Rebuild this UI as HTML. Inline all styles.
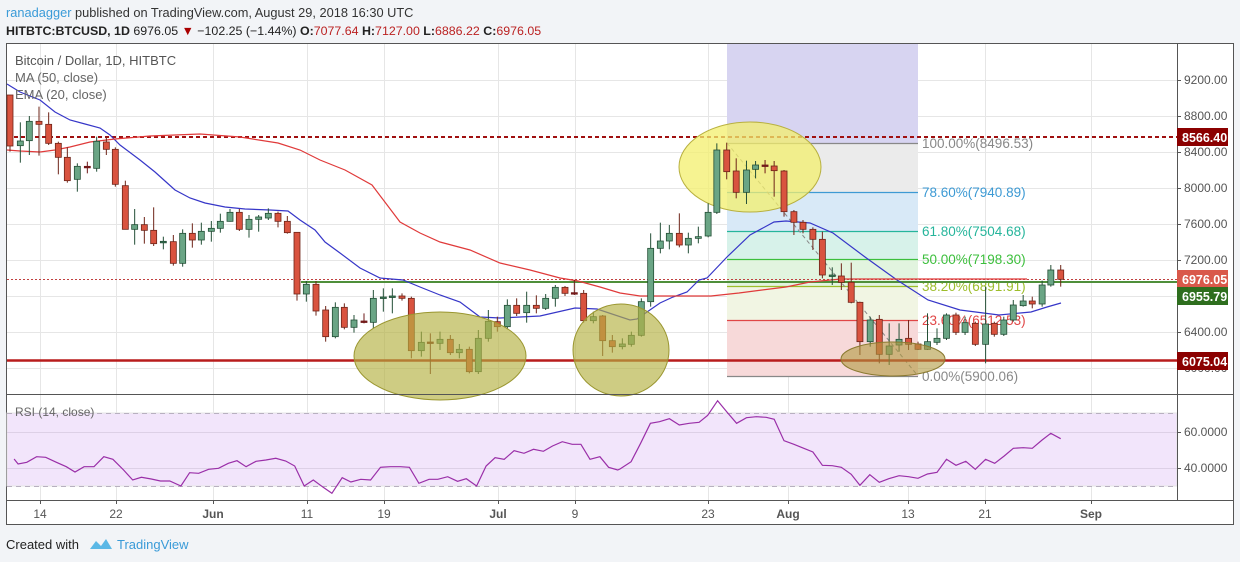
<!DOCTYPE html>
<html><head><meta charset="utf-8">
<style>
html,body{margin:0;padding:0;background:#f2f4f7;}
body{width:1240px;height:562px;overflow:hidden;font-family:"Liberation Sans",sans-serif;}
svg{display:block}
</style></head>
<body>
<svg id="s" width="1240" height="562" xmlns="http://www.w3.org/2000/svg" font-family="Liberation Sans, sans-serif">
<text x="6" y="17" font-size="12.8" fill="#333"><tspan fill="#3a9bd8">ranadagger</tspan> published on TradingView.com, August 29, 2018 16:30 UTC</text>
<text x="6" y="35" font-size="12.4" fill="#222"><tspan font-weight="bold">HITBTC:BTCUSD, 1D</tspan> 6976.05 <tspan fill="#a00">▼</tspan> −102.25 (−1.44%) <tspan font-weight="bold">O:</tspan><tspan fill="#b22">7077.64</tspan> <tspan font-weight="bold">H:</tspan><tspan fill="#b22">7127.00</tspan> <tspan font-weight="bold">L:</tspan><tspan fill="#b22">6886.22</tspan> <tspan font-weight="bold">C:</tspan><tspan fill="#b22">6976.05</tspan></text>
<rect x="6.5" y="43.5" width="1227" height="481" fill="#fff" stroke="#555"/>
<g id="grid" stroke="#e6e6e6" stroke-width="1"></g>
<g id="fib"></g>
<g id="lines"></g>
<g id="candles"></g>
<g id="over"></g>
<line x1="1177.5" y1="43" x2="1177.5" y2="500" stroke="#555"/>
<line x1="6" y1="394.5" x2="1234" y2="394.5" stroke="#555"/>
<line x1="6" y1="500.5" x2="1234" y2="500.5" stroke="#555"/>
<g id="labels" font-size="12" fill="#555"></g>
<text x="15" y="65" font-size="13" fill="#555">Bitcoin / Dollar, 1D, HITBTC</text>
<text x="15" y="82" font-size="13" fill="#666">MA (50, close)</text>
<text x="15" y="99" font-size="13" fill="#666">EMA (20, close)</text>
<text x="15" y="416" font-size="12" fill="#666">RSI (14, close)</text>
<text x="6" y="549" font-size="13" fill="#222">Created with</text>
<path d="M90 549 l6 -8 l5 5 l5 -7 l6 10 z" fill="#5bb8e6"/>
<text x="117" y="549" font-size="13" fill="#3a9bd8">TradingView</text>
</svg>
<script>
const NS="http://www.w3.org/2000/svg";
function el(p,t,a,txt){const e=document.createElementNS(NS,t);for(const k in a)e.setAttribute(k,a[k]);if(txt!==undefined)e.textContent=txt;document.getElementById(p).appendChild(e);return e;}
[40,116,213,307,384,498,575,708,788,908,985,1091].forEach(x=>{el('grid','line',{x1:x+.5,y1:44,x2:x+.5,y2:500});});
[80,116,152,188,224,260,296,332,368,432,468].forEach(y=>{el('grid','line',{x1:7,y1:y+.5,x2:1177,y2:y+.5});});
const fx1=727,fx2=918;
el('fib','rect',{x:fx1,y:44,width:fx2-fx1,height:99,fill:"#d7d4f1"});
const bands=[[143,192,"#ebebeb"],[192,231,"#d8e9f7"],[231,259,"#d7f2ea"],[259,286,"#e2f4df"],[286,320,"#f1f5e3"],[320,376,"#f7d9d9"]];
bands.forEach(b=>el('fib','rect',{x:fx1,y:b[0],width:fx2-fx1,height:b[1]-b[0],fill:b[2]}));
const lv=[[143,"#888","100.00%(8496.53)"],[192,"#3d9ad4","78.60%(7940.89)"],[231,"#26b59b","61.80%(7504.68)"],[259,"#3cbf3c","50.00%(7198.30)"],[286,"#9dbd2a","38.20%(6891.91)"],[320,"#e04646","23.60%(6512.53)"],[376,"#888","0.00%(5900.06)"]];
lv.forEach(l=>{el('fib','line',{x1:fx1,y1:l[0]+.5,x2:fx2,y2:l[0]+.5,stroke:l[1],"stroke-width":1.3});el('fib','text',{x:922,y:l[0]+5,fill:l[1],"font-size":"13.5"},l[2]);});
el('fib','line',{x1:fx1,y1:143,x2:fx2,y2:376,stroke:"#888","stroke-dasharray":"4 3"});
el('lines','line',{x1:7,y1:137,x2:1177,y2:137,stroke:"#a01010","stroke-width":2,"stroke-dasharray":"4 3"});
el('lines','line',{x1:7,y1:279.5,x2:1177,y2:279.5,stroke:"#c04040","stroke-dasharray":"2 2"});
el('lines','line',{x1:301,y1:282,x2:1177,y2:282,stroke:"#4f8f3a","stroke-width":2});
el('lines','line',{x1:7,y1:360.5,x2:1177,y2:360.5,stroke:"#b81c1c","stroke-width":2.5});
el('lines','ellipse',{cx:750,cy:167,rx:71,ry:45,fill:"#f3ef6c","fill-opacity":.75,stroke:"#b8b040"});
el('over','ellipse',{cx:440,cy:356,rx:86,ry:44,fill:"#b4b040","fill-opacity":.65,stroke:"#9a9630"});
el('over','ellipse',{cx:621,cy:350,rx:48,ry:46,fill:"#b4b040","fill-opacity":.65,stroke:"#9a9630"});
el('over','ellipse',{cx:893,cy:359,rx:52,ry:17,fill:"#b09a40","fill-opacity":.6,stroke:"#8a7a30"});
function pl(pts,c){el('lines','polyline',{points:pts.map(p=>p.join(',')).join(' '),fill:"none",stroke:c,"stroke-width":1.2});}
pl([[7,84],[20,92],[40,100],[55,112],[70,120],[85,124],[100,128],[110,135],[120,145],[140,160],[155,172],[165,181],[175,190],[190,198],[205,203],[225,207],[245,209],[270,210],[288,211],[300,220],[315,230],[325,242],[340,253],[360,268],[380,278],[403,280],[420,287],[440,295],[460,302],[480,317],[500,318],[540,316],[575,308],[597,309],[630,320],[637,319],[647,312],[660,303],[673,297],[687,292],[699,280],[707,278],[727,257],[750,235],[774,222],[786,221],[810,223],[833,233],[865,257],[897,280],[928,300],[960,310],[999,315],[1031,312],[1047,307],[1061,303]],"#3636c8");
pl([[7,150],[20,151],[40,152],[55,150],[70,147],[90,142],[115,139],[150,136],[200,134],[240,137],[278,143],[300,150],[320,160],[345,170],[372,185],[400,222],[420,233],[440,242],[470,250],[500,263],[530,270],[560,278],[578,281],[600,287],[620,293],[640,296],[660,296],[711,296],[739,293],[762,290],[786,287],[810,282],[841,279],[897,279],[1027,279]],"#e03a3a");
const A=[[30,15,168,15,185,0],[61,153,167,97,218,1],[88,94,152,78,195,1],[117,94,103,50,197,0],[146,103,160,67,165,0],[175,160,202,155,253,0],[202,202,272,172,278,0],[232,229,268,220,305,1],[262,229,232,215,250,2],[290,154,235,140,245,1],[319,156,178,140,195,0],[346,178,283,172,290,0],[376,287,418,272,418,0],[404,404,418,357,464,1],[433,404,421,381,461,0],[461,421,461,352,468,0],[490,454,457,440,478,3],[520,455,520,435,527,0],[548,430,520,418,530,1],[577,430,450,400,473,0],[604,424,450,398,464,1],[634,415,424,393,455,1],[661,394,415,371,428,1],[690,367,394,357,395,1],[718,367,418,357,423,0],[747,388,418,375,443,1],[776,381,388,375,425,1],[805,370,384,355,390,1],[834,370,394,365,412,0],[862,394,428,378,431,0],[891,427,612,427,632,0],[919,583,612,573,635,1],[948,583,663,573,677,0],[977,660,740,648,755,0],[1006,652,740,637,745,1],[1033,652,712,640,718,0],[1062,690,712,675,728,1]];
const B=[[72,393,397,370,400,2],[100,325,397,300,415,1],[130,321,325,295,365,3],[157,318,322,295,370,3],[186,318,325,310,332,0],[214,325,482,320,505,0],[244,457,482,425,500,1],[271,456,460,430,552,2],[300,448,460,425,480,1],[331,448,488,435,495,0],[358,478,488,462,505,1],[388,478,545,470,550,0],[415,445,545,420,552,1],[445,394,445,360,455,1],[472,395,410,380,425,0],[502,346,410,328,418,1],[530,346,370,325,378,0],[560,346,368,305,398,1],[589,346,355,316,370,0],[617,325,355,312,360,1],[646,292,325,285,350,1],[675,292,310,288,318,0],[703,308,312,270,315,2],[731,310,392,300,398,0],[760,380,392,365,400,1],[788,378,452,375,498,0],[817,452,470,435,488,0],[847,462,470,445,478,1],[874,436,463,425,470,1],[904,335,436,325,440,1],[932,175,335,130,350,1],[961,153,175,98,190,1],[988,130,153,105,178,1],[1018,130,165,70,172,0],[1045,145,165,128,190,1],[1075,140,145,110,160,1]];
const C=[[223,547,618,520,622,1],[245,360,547,340,552,1],[270,360,425,338,448,0],[294,423,487,385,505,0],[320,420,487,392,522,1],[343,405,418,393,445,1],[367,405,409,390,430,2],[390,408,422,393,500,0],[415,423,545,420,560,0],[440,545,577,540,615,0],[463,577,598,570,610,0],[488,598,628,592,660,0],[512,628,735,605,745,0],[537,735,739,712,765,3],[560,738,757,700,780,0],[585,757,817,698,820,0],[607,817,935,815,975,0],[633,870,935,860,950,1],[656,868,973,855,1000,0],[681,948,973,880,1005,1],[706,928,945,880,965,1],[730,925,943,870,960,0],[754,942,958,935,960,0],[778,935,958,850,960,1],[802,925,937,895,945,1],[826,855,925,850,930,1],[850,855,907,848,915,0],[873,878,907,860,915,1],[899,880,943,875,948,0],[925,882,943,770,1000,1],[947,880,913,875,920,0],[971,870,913,860,918,1],[995,825,870,810,875,1],[1020,813,827,795,830,1],[1043,813,822,800,835,0],[1068,765,822,752,830,1],[1090,720,765,705,770,1],[1115,720,748,705,770,0]];
function candle(x,bt,bb,wt,wb,c){
  const cols=[["#d9533f","#6e2418"],["#6aa585","#234f36"],["#7a1a1a","#6e1818"],["#3f7d5a","#234f36"]][c];
  el('candles','line',{x1:x,y1:wt,x2:x,y2:wb,stroke:cols[1],"stroke-width":1});
  const h=Math.max(bb-bt,1.5);
  el('candles','rect',{x:x-3,y:bt,width:6,height:h,fill:cols[0],stroke:cols[1],"stroke-width":.8});
}
A.forEach(d=>candle(d[0]/3,90+d[1]/3,90+d[2]/3,90+d[3]/3,90+d[4]/3,d[5]));
B.forEach(d=>candle(340+d[0]/3,190+d[1]/3,190+d[2]/3,190+d[3]/3,190+d[4]/3,d[5]));
C.forEach(d=>candle(620+d[0]/2.53,30+d[1]/3,30+d[2]/3,30+d[3]/3,30+d[4]/3,d[5]));
el('grid','rect',{x:7,y:413,width:1170,height:73,fill:"#f2e5fb"});
[432,468].forEach(y=>el('grid','line',{x1:7,y1:y+.5,x2:1177,y2:y+.5,stroke:"#ddd0e6"}));
[413,486].forEach(y=>el('grid','line',{x1:7,y1:y+.5,x2:1177,y2:y+.5,stroke:"#b8b0c0","stroke-dasharray":"5 4"}));
const R1=[[18,237],[28,252],[50,247],[75,230],[98,232],[125,247],[150,260],[172,276],[195,260],[220,260],[245,230],[268,238],[295,270],[318,300],[340,292],[365,297],[388,303],[412,303],[440,318],[462,278],[485,280],[510,268],[535,265],[560,250],[582,242],[605,260],[630,244],[655,240],[680,235],[705,243],[728,258],[752,318],[775,300],[800,322],[822,340],[848,293],[870,306],[895,298],[920,300],[945,262],[970,260],[995,260],[1018,262],[1042,310],[1068,298],[1090,298],[1115,290],[1140,304],[1162,296],[1188,318],[1212,258],[1235,233],[1258,238],[1283,212],[1308,220],[1332,208],[1357,214],[1380,198],[1405,185],[1430,193],[1452,193],[1475,238],[1500,230],[1522,262],[1545,270]];
const R2=[[0,267],[28,245],[52,190],[77,130],[100,125],[125,116],[150,135],[175,130],[200,127],[222,106],[247,62],[270,95],[295,130],[320,113],[345,110],[370,112],[390,118],[415,182],[440,193],[465,205],[488,216],[512,256],[537,257],[560,262],[585,283],[607,316],[632,284],[656,307],[680,296],[706,287],[730,290],[754,295],[778,282],[802,277],[826,238],[850,256],[875,244],[899,268],[925,238],[948,250],[972,228],[995,205],[1020,203],[1043,205],[1068,180],[1090,160],[1115,176]];
const rp=R1.map(p=>[7+p[0]/2.53,380+p[1]/3]).concat(R2.map(p=>[620+p[0]/2.53,380+p[1]/3]));
el('lines','polyline',{points:rp.map(p=>p.map(v=>v.toFixed(1)).join(',')).join(' '),fill:"none",stroke:"#9a2fa8","stroke-width":1.2});
[[80,"9200.00"],[116,"8800.00"],[152,"8400.00"],[188,"8000.00"],[224,"7600.00"],[260,"7200.00"],[332,"6400.00"],[368,"6000.00"],[432,"60.0000"],[468,"40.0000"]].forEach(l=>{
  el('labels','line',{x1:1177,y1:l[0]+.5,x2:1181,y2:l[0]+.5,stroke:"#555"});
  el('labels','text',{x:1184,y:l[0]+4},l[1]);});
[[137,"#8b0000","8566.40"],[279,"#d9584a","6976.05"],[296,"#2e6e1e","6955.79"],[361,"#8b0000","6075.04"]].forEach(b=>{
  el('labels','rect',{x:1177,y:b[0]-9,width:51,height:18,fill:b[1]});
  el('labels','text',{x:1182,y:b[0]+5,fill:"#fff","font-weight":"bold","font-size":"12.5"},b[2]);});
[[40,"14"],[116,"22"],[213,"Jun",1],[307,"11"],[384,"19"],[498,"Jul",1],[575,"9"],[708,"23"],[788,"Aug",1],[908,"13"],[985,"21"],[1091,"Sep",1]].forEach(d=>{
  el('labels','line',{x1:d[0]+.5,y1:500,x2:d[0]+.5,y2:504,stroke:"#555"});
  const t=el('labels','text',{x:d[0],y:518,"text-anchor":"middle"},d[1]);if(d[2])t.setAttribute('font-weight','bold');});
</script>
</body></html>
